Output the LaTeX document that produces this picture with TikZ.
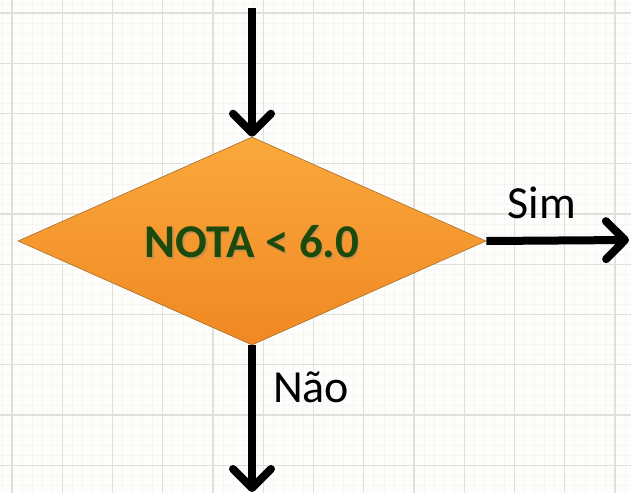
\documentclass[tikz,border=0pt]{standalone}
\usepackage{fontspec}
\setmainfont{Carlito}
\usetikzlibrary{shapes.geometric,arrows.meta}
\definecolor{papel}{RGB}{253,253,251}
\definecolor{grade}{RGB}{222,224,220}
\definecolor{gradefina}{RGB}{245,246,243}
\definecolor{laranjaclaro}{RGB}{250,168,60}
\definecolor{laranjaescuro}{RGB}{240,136,34}
\definecolor{borda}{RGB}{170,110,40}
\definecolor{verdenota}{RGB}{28,74,12}
\tikzset{
	seta/.style={line width=8pt,-{Straight Barb[length=19pt,width=38pt,line width=8pt,round]}},
	decisao/.style={diamond,aspect=2.25,minimum width=468pt,minimum height=208pt,inner sep=0pt,
		top color=laranjaclaro,bottom color=laranjaescuro,draw=borda,line width=0.6pt},
	rotulo/.style={font=\fontsize{46}{50}\selectfont,text=black}
}

\begin{document}
\begin{tikzpicture}[x=1pt,y=-1pt]
				\useasboundingbox (0,0) rectangle (631,493);
				\fill[papel] (0,0) rectangle (631,493);
				% grade do papel
				\foreach \i in {0,...,62} \draw[gradefina,line width=0.8pt] (2+10.05*\i,0) -- (2+10.05*\i,493);
				\foreach \i in {0,...,49} \draw[gradefina,line width=0.8pt] (0,3+10.05*\i) -- (631,3+10.05*\i);
				\foreach \i in {0,...,12} \draw[grade,line width=1.2pt] (12+50.25*\i,0) -- (12+50.25*\i,493);
				\foreach \i in {0,...,9} \draw[grade,line width=1.2pt] (0,13+50.25*\i) -- (631,13+50.25*\i);
				% fluxograma
				\node[decisao] (nota) at (252,241) {};
				\node[text=black!50,opacity=0.35,font=\bfseries\fontsize{47}{50}\selectfont] at (253.5,243.5) {NOTA < 6.0};
				\node[text=verdenota,font=\bfseries\fontsize{47}{50}\selectfont] (texto) at (252,242) {NOTA < 6.0};
				\coordinate (entrada) at (252,8);
				\coordinate (sim) at (629,240);
				\coordinate (nao) at (252,492);
				\draw[seta] (entrada) -- (nota.north);
				\draw[seta] (nota.east) -- (sim);
				\draw[seta] (nota.south) -- (nao);
				\node[rotulo] (rsim) at (542,203) {Sim};
				\node[rotulo] (rnao) at (311,387) {Não};
			\end{tikzpicture}
\end{document}
